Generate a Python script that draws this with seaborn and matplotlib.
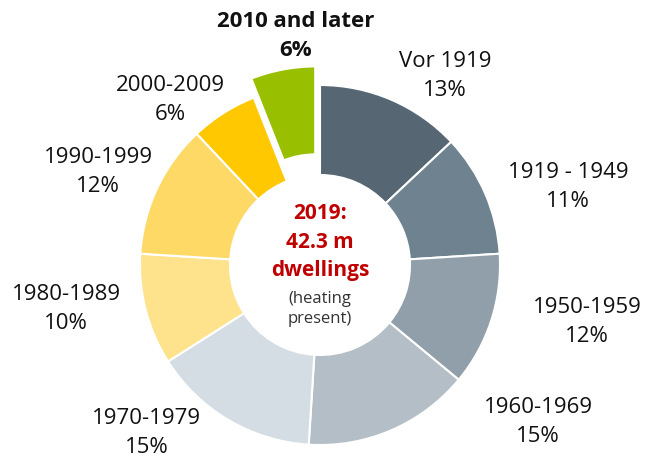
import matplotlib
matplotlib.use("Agg")
import matplotlib.pyplot as plt
import seaborn as sns

sns.set_theme(style="white")
plt.rcParams['font.family'] = ['Open Sans', 'DejaVu Sans']

categories = ["Vor 1919", "1919 - 1949", "1950-1959", "1960-1969", "1970-1979",
              "1980-1989", "1990-1999", "2000-2009", "2010 and later"]
values = [13, 11, 12, 15, 15, 10, 12, 6, 6]
colors = ["#566673", "#6f8290", "#919fab", "#b3bec7", "#d5dde4",
          "#ffe38c", "#ffd966", "#ffc800", "#99c000"]
explode_px = [0, 0, 0, 0, 0, 0, 0, 0, 20]
# label anchor positions in pixels (x, y from top)
label_pos = [(445, 76), (568, 187), (587, 322), (538, 422), (147, 433),
             (66, 309), (98, 172), (170, 100), (296, 36)]

W, H = 646, 459
fig = plt.figure(figsize=(W / 100, H / 100), dpi=100)
ax = fig.add_axes([0, 0, 1, 1])

cx, cy, R = 320, H - 265, 180
wedges, _ = ax.pie(values, colors=colors, startangle=90, counterclock=False,
                   radius=R, center=(cx, cy), explode=explode_px,
                   wedgeprops=dict(width=R * 0.5, edgecolor="white", linewidth=1.5))
wedges[-1].set_linewidth(3)
ax.set_xlim(0, W)
ax.set_ylim(0, H)
ax.set_aspect("equal")
ax.axis("off")

for i, (cat, v) in enumerate(zip(categories, values)):
    x, y = label_pos[i]
    bold = cat.startswith("2010")
    ax.text(x, H - y, f"{cat}\n{v}%", ha="center", va="center", fontsize=16,
            color="#111111", fontweight="bold" if bold else "normal", linespacing=1.5)

ax.text(cx, H - 242, "2019:\n42.3 m\ndwellings", ha="center", va="center",
        fontsize=15, fontweight="bold", color="#c00000", linespacing=1.45)
ax.text(cx, H - 309, "(heating\npresent)", ha="center", va="center",
        fontsize=12, color="#333333", linespacing=1.35)

fig.savefig("out.png", dpi=100)
